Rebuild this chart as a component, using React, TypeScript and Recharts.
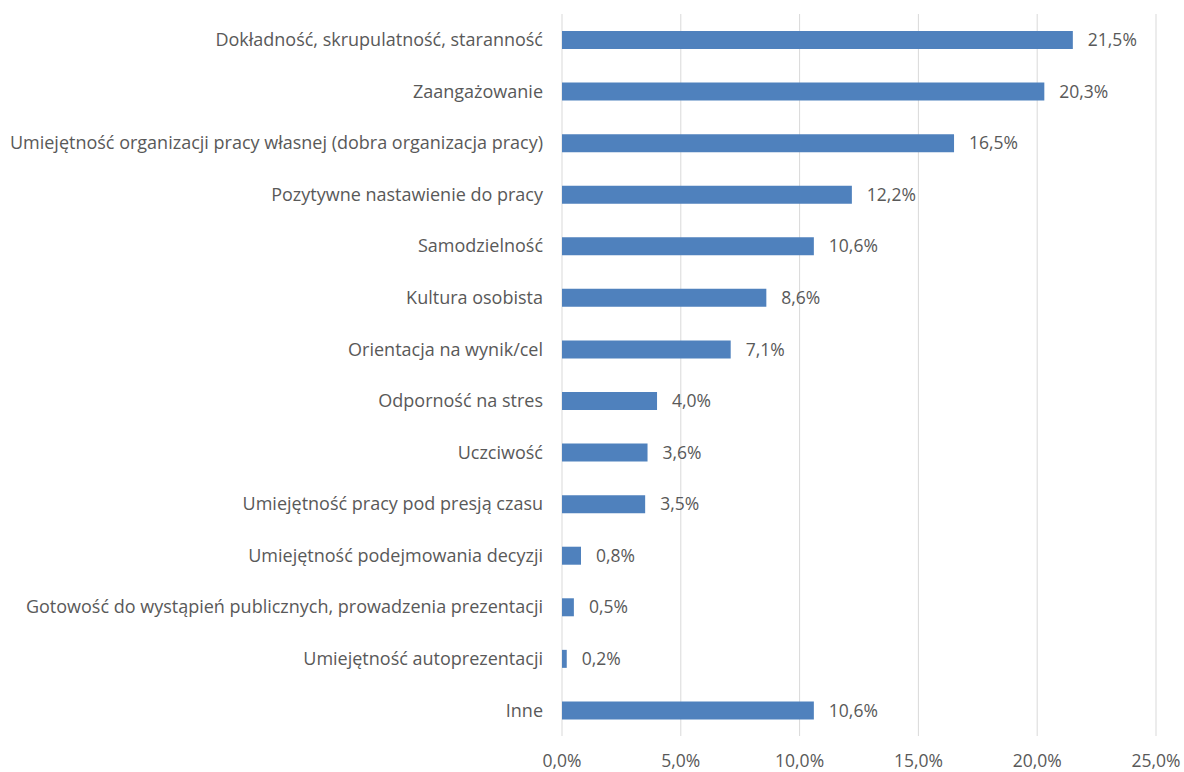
import { BarChart, Bar, XAxis, YAxis, CartesianGrid, LabelList } from "recharts";

const categories = [
  "Dokładność, skrupulatność, staranność",
  "Zaangażowanie",
  "Umiejętność organizacji pracy własnej (dobra organizacja pracy)",
  "Pozytywne nastawienie do pracy",
  "Samodzielność",
  "Kultura osobista",
  "Orientacja na wynik/cel",
  "Odporność na stres",
  "Uczciwość",
  "Umiejętność pracy pod presją czasu",
  "Umiejętność podejmowania decyzji",
  "Gotowość do wystąpień publicznych, prowadzenia prezentacji",
  "Umiejętność autoprezentacji",
  "Inne",
];

const values = [21.5, 20.3, 16.5, 12.2, 10.6, 8.6, 7.1, 4.0, 3.6, 3.5, 0.8, 0.5, 0.2, 10.6];

const xTicks = [0, 5, 10, 15, 20, 25];

const data = categories.map((name, i) => ({ name, value: values[i] }));

const fmt = (v: number) => v.toFixed(1).replace(".", ",") + "%";

const FONT = "'Open Sans', sans-serif";
const TEXT = "#595959";

export default function App() {
  return (
    <div style={{ position: "absolute", left: 0, top: 0, width: 1184, height: 772, background: "#fff" }}>
      <BarChart
        width={1184}
        height={772}
        data={data}
        layout="vertical"
        margin={{ top: 14, right: 28, bottom: 0, left: 0 }}
      >
        <CartesianGrid horizontal={false} stroke="#d9d9d9" />
        <XAxis
          type="number"
          domain={[0, 25]}
          ticks={xTicks}
          tickFormatter={fmt}
          axisLine={false}
          tickLine={false}
          tickSize={0}
          height={36}
          tickMargin={19}
          tick={{ fontSize: 17.5, fill: TEXT, fontFamily: FONT }}
        />
        <YAxis
          type="category"
          dataKey="name"
          width={562}
          axisLine={false}
          tickLine={false}
          tickSize={0}
          tickMargin={19}
          interval={0}
          tick={{ fontSize: 18, fill: TEXT, fontFamily: FONT }}
        />
        <Bar dataKey="value" fill="#4f81bd" barSize={18} isAnimationActive={false}>
          <LabelList
            dataKey="value"
            position="right"
            offset={15}
            formatter={(v: any) => fmt(Number(v))}
            style={{ fontSize: 17.5, fill: TEXT, fontFamily: FONT }}
          />
        </Bar>
      </BarChart>
    </div>
  );
}
